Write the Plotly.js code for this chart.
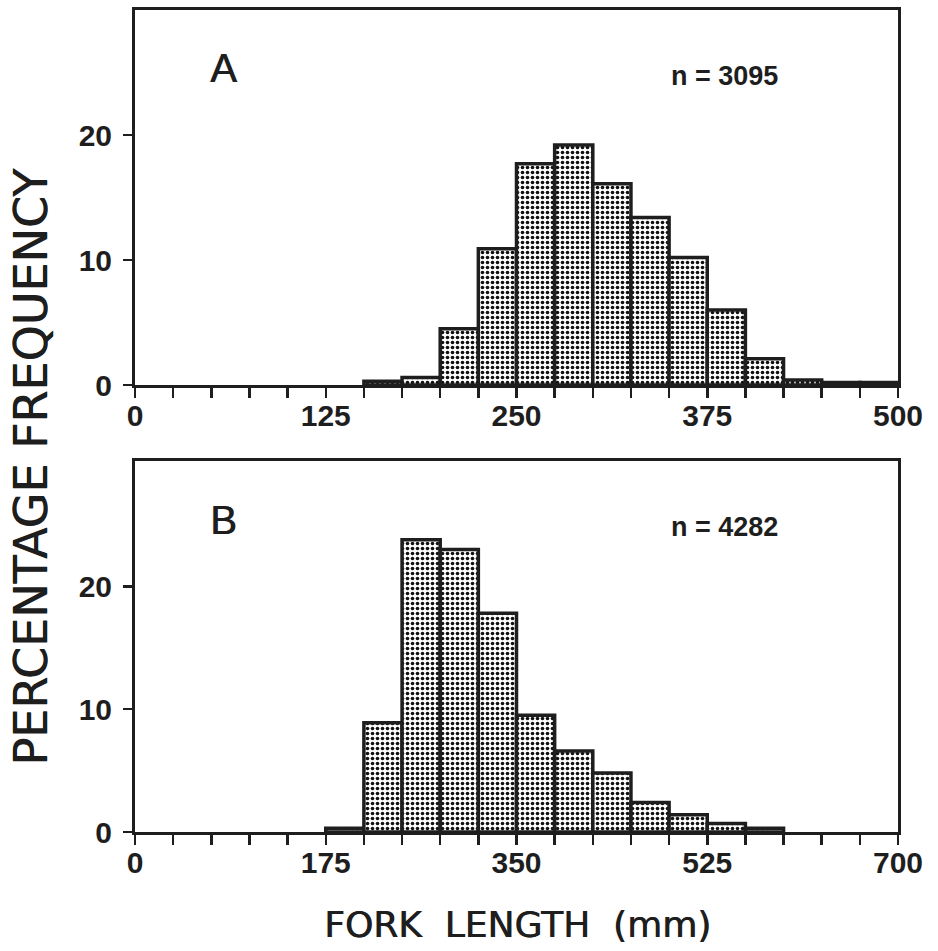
<!DOCTYPE html>
<html>
<head>
<meta charset="utf-8">
<script src="https://cdn.plot.ly/plotly-3.0.1.min.js"></script>
<style>
  html, body { margin: 0; padding: 0; background: #fff; }
  #chart { width: 938px; height: 951px; }
</style>
</head>
<body>
<div id="chart"></div>
<script>
// Panel A: fork-length histogram, 25 mm bins (left edges, mm) and percentage frequency
const binStartA = [150, 175, 200, 225, 250, 275, 300, 325, 350, 375, 400, 425, 450, 475];
const pctA      = [0.3, 0.6, 4.5, 10.9, 17.7, 19.2, 16.1, 13.4, 10.2, 6.0, 2.1, 0.4, 0.2, 0.2];
const binWidthA = 25;
const tickValsA = [0, 125, 250, 375, 500];
const labelA = 'A';
const countA = 'n = 3095';

// Panel B: fork-length histogram, 35 mm bins
const binStartB = [175, 210, 245, 280, 315, 350, 385, 420, 455, 490, 525, 560];
const pctB      = [0.3, 8.9, 23.8, 23.0, 17.8, 9.5, 6.6, 4.8, 2.4, 1.4, 0.7, 0.3];
const binWidthB = 35;
const tickValsB = [0, 175, 350, 525, 700];
const labelB = 'B';
const countB = 'n = 4282';

const yTickVals = [0, 10, 20];
const yTitle = 'PERCENTAGE FREQUENCY';
const xTitle = 'FORK\u00a0\u00a0LENGTH\u00a0\u00a0(mm)';

const ink = '#1e1e1e';
// a faint one-sided shadow gives the titles a medium stroke weight
const medium = '0.7px 0 0 ' + ink;
const tickFont = { family: 'Liberation Sans, Arial, sans-serif', size: 30, weight: 'bold', color: ink };
const yTitleFont = { family: 'DejaVu Sans, sans-serif', size: 46, color: ink, shadow: medium };
const xTitleFont = { family: 'DejaVu Sans, sans-serif', size: 36, color: ink, shadow: medium };
const letterFont = { family: 'Liberation Sans, Arial, sans-serif', size: 40, color: ink, shadow: medium };
const countFont = { family: 'Liberation Sans, Arial, sans-serif', size: 27, weight: 'bold', color: ink };

function barTrace(starts, vals, w, xa, ya) {
  return {
    type: 'bar',
    x: starts.map(s => s + w / 2),
    y: vals,
    width: w,
    xaxis: xa, yaxis: ya,
    marker: {
      color: '#ffffff',
      line: { color: ink, width: 3.5 },
      pattern: { shape: '.', fgcolor: '#111', bgcolor: '#ffffff', size: 5, solidity: 0.42 }
    },
    hoverinfo: 'x+y',
    showlegend: false
  };
}

function xAxis(ticks, anchor) {
  const step = ticks[1] - ticks[0];
  return {
    domain: [0, 1], anchor: anchor,
    range: [ticks[0], ticks[ticks.length - 1]],
    tickmode: 'array', tickvals: ticks, ticktext: ticks.map(String),
    ticks: 'outside', ticklen: 10, tickwidth: 2.5, tickcolor: ink,
    ticklabelstandoff: -8,
    minor: { tickmode: 'linear', tick0: 0, dtick: step / 5, ticks: 'outside', ticklen: 10, tickwidth: 2.5, tickcolor: ink },
    showline: true, mirror: true, linewidth: 3, linecolor: ink,
    showgrid: false, zeroline: false,
    tickfont: tickFont
  };
}

function yAxis(domain, anchor, top) {
  return {
    domain: domain, anchor: anchor,
    range: [0, top],
    tickmode: 'array', tickvals: yTickVals, ticktext: yTickVals.map(String),
    ticks: 'outside', ticklen: 9, tickwidth: 2.5, tickcolor: ink,
    ticklabelstandoff: 5,
    showline: true, mirror: true, linewidth: 3, linecolor: ink,
    showgrid: false, zeroline: false,
    tickfont: tickFont
  };
}

function note(text, xref, yref, x, y, font, angle) {
  return { text: text, xref: xref, yref: yref, x: x, y: y, xanchor: 'center', yanchor: 'middle',
           textangle: angle || 0, showarrow: false, font: font };
}

const data = [
  barTrace(binStartA, pctA, binWidthA, 'x', 'y'),
  barTrace(binStartB, pctB, binWidthB, 'x2', 'y2')
];

const layout = {
  width: 938, height: 951,
  margin: { l: 135, r: 40, t: 10, b: 119 },
  paper_bgcolor: '#ffffff', plot_bgcolor: '#ffffff',
  bargap: 0,
  xaxis: xAxis(tickValsA, 'y'),
  yaxis: yAxis([0.5438, 1], 'x', 30),
  xaxis2: xAxis(tickValsB, 'y2'),
  yaxis2: yAxis([0, 0.4513], 'x2', 30.2),
  annotations: [
    note(labelA, 'x domain', 'y domain', 0.1166, 0.844, letterFont),
    note(countA, 'x domain', 'y domain', 0.772, 0.823, countFont),
    note(labelB, 'x2 domain', 'y2 domain', 0.1166, 0.842, letterFont),
    note(countB, 'x2 domain', 'y2 domain', 0.772, 0.821, countFont),
    note(yTitle, 'paper', 'paper', -0.1357, 0.445, yTitleFont, -90),
    note(xTitle, 'paper', 'paper', 0.501, -0.113, xTitleFont)
  ]
};

Plotly.newPlot('chart', data, layout, { displayModeBar: false, staticPlot: true });
</script>
</body>
</html>
